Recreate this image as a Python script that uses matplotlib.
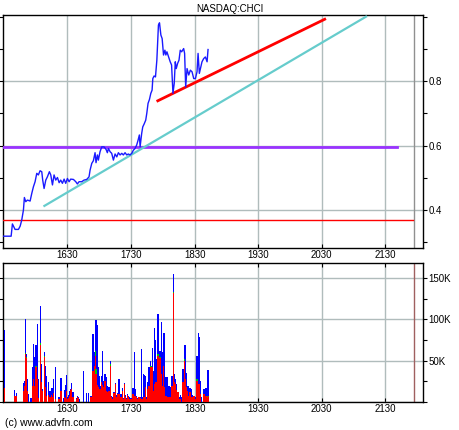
import matplotlib
matplotlib.use("Agg")
import matplotlib.pyplot as plt
from matplotlib.ticker import FuncFormatter, MultipleLocator, FixedLocator

plt.rcParams['font.family'] = ['Liberation Sans', 'DejaVu Sans']

# zaman: gece yarisindan itibaren dakika (990 = 16:30)
price_t = [929.0, 936.9, 938.1, 940.6, 943.8, 945.4, 946.9, 948.5, 949.4, 950.7,
           952.3, 954.8, 956.4, 957.9, 959.5, 961.1, 962.6, 964.2, 965.8, 966.7,
           968.0, 969.6, 971.1, 973.0, 974.3, 975.9, 977.4, 979.0, 980.6, 982.2,
           983.7, 985.3, 986.9, 988.4, 990.0, 991.6, 993.1, 995.7, 997.9, 999.4,
           1001.0, 1003.5, 1005.7, 1008.2, 1010.4, 1011.4, 1013.0, 1014.5, 1016.1, 1017.0,
           1018.3, 1019.2, 1020.8, 1022.4, 1024.6, 1026.5, 1027.7, 1028.7, 1030.3, 1031.8,
           1033.4, 1035.0, 1036.6, 1038.1, 1039.7, 1041.3, 1042.8, 1044.4, 1046.0, 1047.5,
           1049.1, 1050.7, 1052.3, 1053.8, 1055.4, 1056.7, 1057.9, 1058.6, 1060.1, 1061.1,
           1062.4, 1063.9, 1064.9, 1066.1, 1067.4, 1068.7, 1069.9, 1070.6, 1071.8, 1073.1,
           1074.4, 1075.0, 1075.9, 1076.9, 1078.2, 1079.4, 1080.7, 1082.0, 1082.9, 1083.9,
           1085.5, 1087.0, 1088.3, 1089.6, 1090.8, 1091.8, 1092.7, 1094.0, 1095.3, 1096.5,
           1097.8, 1099.7, 1100.6, 1101.6, 1102.9, 1104.5, 1106.0, 1107.6, 1109.2, 1110.8,
           1112.3, 1113.3, 1114.5, 1115.5, 1117.0, 1118.6, 1120.2, 1121.8, 1122.7]
price_v = [0.319, 0.319, 0.357, 0.340, 0.340, 0.350, 0.369, 0.400, 0.439, 0.426,
           0.431, 0.428, 0.452, 0.472, 0.488, 0.514, 0.509, 0.522, 0.519, 0.493,
           0.467, 0.493, 0.503, 0.519, 0.509, 0.478, 0.509, 0.493, 0.501, 0.485,
           0.493, 0.483, 0.496, 0.483, 0.498, 0.488, 0.496, 0.495, 0.488, 0.481,
           0.488, 0.488, 0.493, 0.495, 0.503, 0.524, 0.545, 0.553, 0.578, 0.547,
           0.571, 0.555, 0.581, 0.596, 0.596, 0.588, 0.578, 0.591, 0.581, 0.576,
           0.555, 0.574, 0.565, 0.578, 0.571, 0.576, 0.571, 0.578, 0.571, 0.574,
           0.571, 0.576, 0.586, 0.591, 0.602, 0.617, 0.633, 0.596, 0.638, 0.658,
           0.667, 0.679, 0.700, 0.731, 0.743, 0.762, 0.772, 0.808, 0.816, 0.813,
           0.865, 0.906, 0.974, 0.981, 0.943, 0.932, 0.881, 0.896, 0.881, 0.891,
           0.875, 0.860, 0.850, 0.762, 0.793, 0.860, 0.839, 0.855, 0.865, 0.896,
           0.891, 0.901, 0.886, 0.782, 0.839, 0.819, 0.834, 0.829, 0.808, 0.808,
           0.829, 0.886, 0.824, 0.839, 0.860, 0.870, 0.875, 0.860, 0.898]

# hacim (bin adet): mavi = toplam, kirmizi = alt kisim
vol_t = [930.3, 939.7, 940.6, 941.6, 948.2, 949.1, 950.1, 951.0, 952.0, 952.9,
         954.8, 955.7, 956.7, 957.6, 958.6, 959.5, 960.4, 961.4, 962.3, 964.2,
         965.2, 966.1, 968.0, 968.9, 969.9, 971.8, 972.7, 973.6, 974.6, 975.5,
         976.5, 978.4, 981.2, 982.1, 983.1, 984.0, 986.2, 987.2, 988.1, 989.1,
         990.0, 990.9, 991.9, 992.8, 993.8, 995.3, 998.8, 999.7, 1000.7, 1001.6,
         1004.8, 1007.6, 1009.5, 1012.3, 1013.3, 1014.2, 1015.2, 1016.1, 1017.0, 1018.0,
         1018.9, 1019.9, 1020.8, 1021.8, 1022.7, 1023.6, 1024.6, 1025.5, 1026.5, 1027.4,
         1028.4, 1029.3, 1030.3, 1031.2, 1032.1, 1033.1, 1034.0, 1035.0, 1035.9, 1036.9,
         1037.8, 1038.7, 1039.7, 1040.6, 1041.6, 1042.5, 1043.5, 1044.4, 1045.3, 1046.3,
         1047.2, 1048.2, 1049.1, 1051.0, 1051.9, 1052.9, 1053.8, 1054.8, 1055.7, 1056.7,
         1057.6, 1058.6, 1059.5, 1060.4, 1061.4, 1062.3, 1063.3, 1064.2, 1065.2, 1066.1,
         1067.0, 1068.0, 1068.9, 1069.9, 1070.8, 1071.8, 1072.7, 1073.6, 1074.6, 1075.5,
         1076.5, 1077.4, 1078.4, 1079.3, 1080.3, 1081.2, 1082.1, 1083.1, 1084.0, 1085.0,
         1085.9, 1086.9, 1087.8, 1088.7, 1089.7, 1090.6, 1091.6, 1092.5, 1093.5, 1094.4,
         1095.3, 1096.3, 1097.2, 1099.1, 1100.1, 1101.0, 1101.9, 1102.9, 1103.8, 1104.8,
         1105.7, 1106.7, 1107.6, 1108.6, 1109.5, 1110.4, 1111.4, 1112.3, 1113.3, 1114.2,
         1115.2, 1116.1, 1118.9, 1119.9, 1120.8, 1121.8, 1122.7]
vol_blue = [87.4, 14.6, 7.3, 10.6, 22.8, 25.6, 100.8, 58.1, 27.6, 9.3,
            4.1, 4.1, 41.9, 70.3, 54.9, 63.4, 68.3, 94.7, 27.6, 116.3,
            45.9, 15.4, 60.2, 43.9, 31.7, 23.6, 9.3, 12.6, 15.4, 16.7,
            27.6, 41.9, 4.5, 6.1, 4.5, 28.9, 4.5, 14.2, 20.3, 32.5,
            5.3, 8.5, 12.6, 15.4, 22.8, 11.4, 4.1, 7.3, 6.1, 3.3,
            37.0, 10.6, 10.6, 7.3, 70.0, 82.5, 60.0, 92.7, 98.8, 92.7,
            41.9, 31.7, 19.5, 31.7, 62.0, 25.6, 23.6, 33.7, 29.7, 19.5,
            15.4, 17.5, 49.2, 7.3, 5.3, 11.4, 11.4, 22.4, 8.1, 10.6,
            16.7, 27.6, 6.1, 9.3, 16.7, 4.1, 22.8, 8.1, 4.1, 9.3,
            7.3, 5.3, 4.1, 4.1, 16.3, 60.0, 15.4, 7.3, 4.1, 5.3,
            6.1, 5.3, 64.2, 5.3, 33.7, 32.9, 31.7, 5.3, 19.5, 24.4,
            41.9, 49.2, 41.9, 65.4, 37.8, 89.8, 74.4, 52.0, 39.8, 106.9,
            54.1, 62.2, 96.7, 60.2, 66.3, 83.3, 29.7, 19.5, 30.5, 11.4,
            19.5, 3.3, 17.5, 31.7, 154.9, 33.7, 28.0, 21.5, 11.4, 11.4,
            6.1, 8.5, 5.3, 39.8, 61.4, 69.5, 35.0, 19.5, 19.5, 11.4,
            16.7, 15.4, 8.5, 7.3, 7.3, 5.3, 25.6, 55.0, 83.3, 79.0,
            25.0, 5.3, 15.4, 15.4, 16.7, 25.6, 38.0]
vol_red = [16.7, 7.3, 7.3, 6.5, 12.6, 19.5, 58.1, 53.3, 13.4, 0.0,
           0.0, 0.0, 19.5, 27.6, 19.5, 23.6, 41.9, 27.6, 4.1, 69.5,
           23.6, 13.4, 54.1, 17.5, 7.3, 8.5, 5.3, 5.3, 8.5, 6.1,
           10.2, 3.3, 2.4, 3.3, 2.0, 12.6, 0.0, 6.1, 4.1, 12.6,
           3.3, 4.5, 7.3, 14.6, 15.4, 6.1, 3.3, 5.3, 4.1, 0.0,
           0.0, 0.0, 0.0, 5.3, 11.4, 37.8, 43.9, 56.1, 33.7, 20.0,
           17.5, 13.4, 15.4, 23.6, 20.0, 17.5, 21.5, 25.6, 13.4, 11.4,
           11.4, 12.6, 43.9, 5.3, 3.3, 10.2, 10.2, 21.5, 6.1, 9.3,
           9.3, 9.3, 5.3, 6.1, 12.6, 3.3, 21.5, 6.1, 3.3, 8.5,
           5.3, 3.3, 2.8, 2.8, 9.3, 7.3, 7.3, 5.3, 3.3, 4.1,
           5.3, 4.5, 3.3, 3.3, 4.1, 6.1, 17.5, 3.3, 7.3, 15.4,
           19.5, 19.5, 41.9, 42.7, 13.4, 9.3, 21.5, 23.6, 13.4, 56.1,
           31.7, 53.3, 33.7, 19.5, 43.9, 17.5, 7.3, 7.3, 5.3, 5.3,
           5.3, 2.4, 5.3, 19.5, 132.1, 23.6, 22.0, 14.0, 3.3, 11.4,
           3.3, 3.3, 0.0, 23.6, 50.0, 27.6, 17.5, 12.6, 7.3, 6.1,
           11.4, 3.3, 5.3, 0.0, 7.3, 3.3, 6.1, 25.6, 19.5, 21.5,
           9.3, 0.0, 9.3, 5.3, 7.3, 5.3, 7.3]
# kirmizinin ustundeki kucuk yesil parcalar
green_t = [950.1, 951.0, 960.4, 964.2, 968.0, 1016.1, 1017.0, 1030.3, 1068.9,
           1075.5, 1077.4, 1089.7, 1100.1, 1112.3, 1121.8]
green_v = [1.5, 1.5, 1.5, 1.5, 1.5, 6.0, 6.0, 1.5, 1.5,
           1.5, 1.5, 1.5, 1.5, 1.5, 1.5]

# trend cizgileri
purple_t = [929.0, 1301.0]
purple_v = [0.597, 0.597]
redh_t = [929.0, 1316.0]
redh_v = [0.368, 0.368]
cyan_t = [968.3, 1271.8]
cyan_v = [0.413, 1.0]
redtr_t = [1075.3, 1232.8]
redtr_v = [0.739, 0.992]

xticks = [990, 1050, 1110, 1170, 1230, 1290]
now_t = 1317.0


def hhmm(x, pos=None):
    return "%d%02d" % (int(x // 60), int(round(x % 60)))


grid_c = '#b0bcbc'

fig = plt.figure(figsize=(4.6, 4.3), dpi=100)
ax = fig.add_axes([0.006, 0.423, 0.913, 0.542])
axv = fig.add_axes([0.006, 0.066, 0.913, 0.322])

# ust panel: fiyat
ax.plot(price_t, price_v, color='#1a1aff', lw=1.0, zorder=5)
ax.plot(purple_t, purple_v, color='#9933ff', lw=2.0, zorder=4)
ax.plot(redh_t, redh_v, color='#ff0000', lw=1.0, zorder=4)
ax.plot(cyan_t, cyan_v, color='#66cccc', lw=1.6, zorder=4)
ax.plot(redtr_t, redtr_v, color='#ff0000', lw=2.0, zorder=4)
ax.axvline(now_t, color='#909090', lw=1.0, zorder=2)

ax.set_xlim(929.0, 1325.3)
ax.set_ylim(0.282, 1.005)
ax.xaxis.set_major_locator(FixedLocator(xticks))
ax.yaxis.set_major_locator(FixedLocator([0.4, 0.6, 0.8]))
ax.yaxis.set_minor_locator(FixedLocator([0.3, 0.5, 0.7, 0.9, 1.0]))
ax.yaxis.tick_right()
ax.tick_params(axis='x', which='both', direction='in', length=3, labelbottom=False)
ax.tick_params(axis='y', which='both', direction='out', length=3, width=0.8,
               labelsize=7, pad=1, left=True, right=True)
ax.grid(True, color=grid_c, lw=1.0)
ax.set_axisbelow(True)

# alt panel: hacim
axv.bar(vol_t, vol_blue, width=1.05, color='#0000ff', linewidth=0,
        antialiased=False, zorder=3)
axv.bar(vol_t, vol_red, width=1.05, color='#ff0000', linewidth=0,
        antialiased=False, zorder=4)
green_base = [vol_red[vol_t.index(t)] for t in green_t]
axv.bar(green_t, green_v, bottom=green_base, width=1.05, color='#00cc00',
        linewidth=0, antialiased=False, zorder=5)
axv.axvline(now_t, color='#a06060', lw=1.0, zorder=2)

axv.set_xlim(929.0, 1325.3)
axv.set_ylim(0, 168.5)
axv.xaxis.set_major_locator(FixedLocator(xticks))
axv.xaxis.set_major_formatter(FuncFormatter(hhmm))
axv.yaxis.set_major_locator(MultipleLocator(50))
axv.yaxis.set_minor_locator(MultipleLocator(25))
axv.yaxis.set_major_formatter(FuncFormatter(lambda v, p: "%dK" % v if v > 0 else ""))
axv.yaxis.tick_right()
axv.tick_params(axis='x', which='both', direction='in', length=3, labelsize=7,
                top=True, labeltop=True, pad=2)
axv.tick_params(axis='y', which='both', direction='out', length=3, width=0.8,
                labelsize=7, pad=1, left=True, right=True)
axv.grid(True, color=grid_c, lw=1.0)
axv.set_axisbelow(True)

for a in (ax, axv):
    for s in a.spines.values():
        s.set_linewidth(1.0)
        s.set_color('black')

fig.text(0.5, 0.979, 'NASDAQ:CHCI', ha='center', va='center', fontsize=7)
fig.text(0.011, 0.016, '(c) www.advfn.com', ha='left', va='center', fontsize=7.5)

fig.savefig('out.png', dpi=100)
